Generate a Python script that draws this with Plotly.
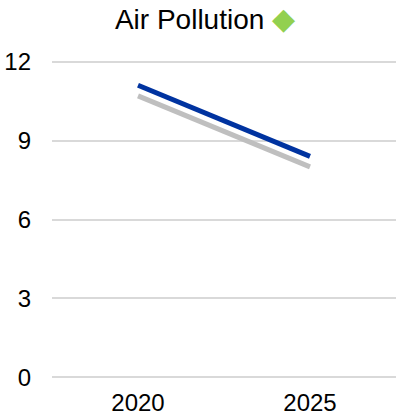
import plotly.graph_objects as go

years = ["2020", "2025"]
series_blue = [11.1, 8.4]
series_gray = [10.7, 8.0]
y_ticks = [0, 3, 6, 9, 12]

FONT = "Liberation Sans, Arial, sans-serif"
W, H = 396, 417

fig = go.Figure()
fig.add_trace(go.Scatter(x=years, y=series_gray, mode="lines",
                         line=dict(color="#bfbfbf", width=5), showlegend=False))
fig.add_trace(go.Scatter(x=years, y=series_blue, mode="lines",
                         line=dict(color="#0033a0", width=5), showlegend=False))

fig.update_layout(
    width=W, height=H,
    margin=dict(l=52, r=0, t=59, b=37, autoexpand=False),
    paper_bgcolor="white", plot_bgcolor="white",
    font=dict(family=FONT, color="#000000", size=24),
    title=dict(text="Air Pollution <span style='color:#92d050;font-size:30px'>◆</span>",
               font=dict(size=28, family=FONT, color="#000"),
               x=205/W, xanchor="center", xref="container",
               y=1-19/H, yanchor="middle", yref="container"),
    xaxis=dict(type="category", range=[-0.5, 1.5], showgrid=False, showline=False,
               zeroline=False, ticks="", tickfont=dict(size=24), ticklabelstandoff=6),
    yaxis=dict(range=[-0.1, 12.1], tickvals=y_ticks, showgrid=True, gridcolor="#d9d9d9",
               gridwidth=1.5, zeroline=False, showline=False, ticks="",
               tickfont=dict(size=24), ticklabelstandoff=20),
)

fig.write_html("out.html",
               config={"displayModeBar": False},
               post_script="document.body.style.margin='0';document.body.style.overflow='hidden';")
